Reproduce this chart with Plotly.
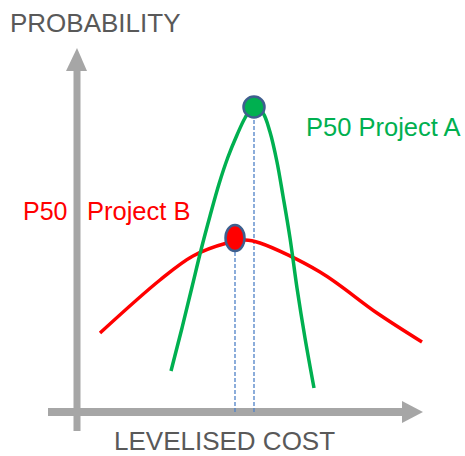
import plotly.graph_objects as go

# Data (cost units, probability units)
cost_a = [94, 105, 115, 124, 133, 142, 151, 160, 168, 177, 186, 193, 200, 206, 213, 220, 228, 237]
prob_a = [41, 84, 125, 162, 196, 228, 255, 277, 294, 307, 299, 280, 250, 216, 174, 124, 74, 24]

cost_b = [23, 83, 116, 150, 168, 183, 243, 300, 345]
prob_b = [79, 132, 156, 169, 172, 169, 140, 99, 70]

p50_a = (177, 305)
p50_b = (158, 174)

labels = {"y": "PROBABILITY", "x": "LEVELISED COST", "a": "P50 Project A", "b1": "P50", "b2": "Project B"}

GREEN = "#00B050"
RED = "#FF0000"
GRAY = "#A6A6A6"
TEXT = "#595959"
DASH = "#4F81C7"
OUTLINE = "#3E5F8E"
FONT = "Liberation Sans, Arial, sans-serif"

fig = go.Figure()

# dashed drop lines
for p in (p50_b, p50_a):
    fig.add_trace(go.Scatter(x=[p[0], p[0]], y=[0, p[1]], mode="lines",
                             line=dict(color=DASH, width=1.3, dash="4px,2px"),
                             hoverinfo="skip", showlegend=False))

fig.add_trace(go.Scatter(x=cost_b, y=prob_b, mode="lines",
                         line=dict(color=RED, width=3.5, shape="spline", smoothing=1.0),
                         showlegend=False))
fig.add_trace(go.Scatter(x=cost_a, y=prob_a, mode="lines",
                         line=dict(color=GREEN, width=3.5, shape="spline", smoothing=1.0),
                         showlegend=False))

shapes = []
# axes bars
shapes.append(dict(type="rect", x0=-3.5, x1=3.5, y0=-19, y1=341, fillcolor=GRAY, line=dict(width=0), layer="below"))
shapes.append(dict(type="path", path="M 0,364 L -11,341 L 10,341 Z", fillcolor=GRAY, line=dict(width=0), layer="below"))
shapes.append(dict(type="rect", x0=-29, x1=325, y0=-4, y1=4, fillcolor=GRAY, line=dict(width=0), layer="below"))
shapes.append(dict(type="path", path="M 346,0 L 325,11 L 325,-11 Z", fillcolor=GRAY, line=dict(width=0), layer="below"))

# P50 markers
shapes.append(dict(type="circle", x0=p50_a[0] - 10.5, x1=p50_a[0] + 10.5, y0=p50_a[1] - 10.5, y1=p50_a[1] + 10.5,
                   fillcolor=GREEN, line=dict(color=OUTLINE, width=2.5), layer="above"))
shapes.append(dict(type="circle", x0=p50_b[0] - 9.5, x1=p50_b[0] + 9.5, y0=p50_b[1] - 13, y1=p50_b[1] + 13,
                   fillcolor=RED, line=dict(color=OUTLINE, width=2.5), layer="above"))

annotations = [
    dict(x=18, y=389, text=labels["y"], font=dict(color=TEXT, size=26, family=FONT)),
    dict(x=147.5, y=-29, text=labels["x"], font=dict(color=TEXT, size=26, family=FONT)),
    dict(x=306.5, y=285, text=labels["a"], font=dict(color=GREEN, size=25.5, family=FONT)),
    dict(x=-32, y=201, text=labels["b1"], font=dict(color=RED, size=25, family=FONT)),
    dict(x=61, y=201, text=labels["b2"], font=dict(color=RED, size=25.5, family=FONT)),
]
for a in annotations:
    a.update(xref="x", yref="y", showarrow=False, xanchor="center", yanchor="middle")

fig.update_layout(
    width=465, height=456, margin=dict(l=0, r=0, t=0, b=0),
    paper_bgcolor="white", plot_bgcolor="white",
    xaxis=dict(range=[-77, 388], visible=False, fixedrange=True),
    yaxis=dict(range=[-44, 412], visible=False, fixedrange=True),
    shapes=shapes, annotations=annotations, showlegend=False,
)

fig.write_html("out.html", config={"displayModeBar": False},
               post_script="document.body.style.margin='0';document.body.style.overflow='hidden';")
